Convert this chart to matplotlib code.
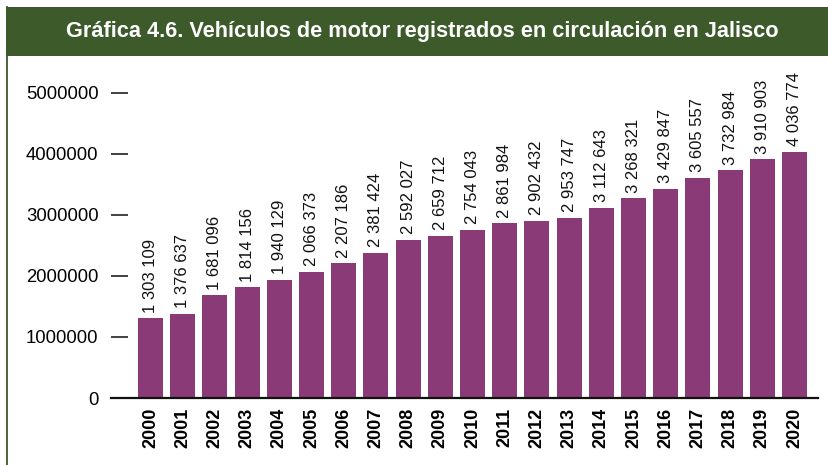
import matplotlib
matplotlib.use("Agg")
import matplotlib.pyplot as plt
from matplotlib.patches import Rectangle
from matplotlib.lines import Line2D

years = ["2000", "2001", "2002", "2003", "2004", "2005", "2006", "2007", "2008", "2009",
         "2010", "2011", "2012", "2013", "2014", "2015", "2016", "2017", "2018", "2019", "2020"]
vehicles = [1303109, 1376637, 1681096, 1814156, 1940129, 2066373, 2207186, 2381424,
            2592027, 2659712, 2754043, 2861984, 2902432, 2953747, 3112643, 3268321,
            3429847, 3605557, 3732984, 3910903, 4036774]
y_ticks = [0, 1000000, 2000000, 3000000, 4000000, 5000000]
title = "Gráfica 4.6. Vehículos de motor registrados en circulación en Jalisco"

FONT = ["Liberation Sans", "DejaVu Sans"]
GREEN = "#3d5a2b"
BAR = "#8b3a78"

W, H = 829, 465
fig = plt.figure(figsize=(W / 100, H / 100), dpi=100)

# title band and frame line
fig.patches.append(Rectangle((6 / W, 1 - 56 / H), 1 - 6 / W, 49 / H,
                             transform=fig.transFigure, facecolor=GREEN,
                             edgecolor="none", zorder=0))
fig.lines.append(Line2D([6.7 / W, 6.7 / W], [0, 1 - 7 / H], transform=fig.transFigure,
                        color=GREEN, linewidth=1.3))
fig.text(422 / W, 1 - 31 / H, title, color="white", fontsize=15.7, fontweight="bold",
         family=FONT, ha="center", va="center")

ppm = 61.06  # pixels per million
ytop = 5.3e6
left, right, bottom = 111, 818, 398
top = bottom - ytop / 1e6 * ppm
ax = fig.add_axes([left / W, 1 - bottom / H, (right - left) / W, (bottom - top) / H])

x = list(range(len(years)))
ax.bar(x, vehicles, width=0.776, color=BAR, zorder=2)
for xi, v in zip(x, vehicles):
    s = f"{v:,}".replace(",", " ")
    ax.annotate(s, (xi, v), xytext=(0, 4), textcoords="offset points", rotation=90,
                ha="center", va="bottom", fontsize=12, family=FONT, color="#111111",
                annotation_clip=False)

ax.set_xlim(-1.227, 20.73)
ax.set_ylim(0, ytop)
ax.set_yticks(y_ticks)
ax.set_yticklabels([str(t) for t in y_ticks], family=FONT, fontsize=13.3)
ax.set_xticks(x)
ax.set_xticklabels(years, rotation=90, family=FONT, fontsize=13, fontweight="bold")
ax.tick_params(axis="y", direction="in", length=12, width=1.3, color="#333333", pad=9)
ax.tick_params(axis="x", length=0, pad=7)
for sp in ["top", "right", "left"]:
    ax.spines[sp].set_visible(False)
ax.spines["bottom"].set_linewidth(1.6)
ax.spines["bottom"].set_color("#111111")
ax.set_facecolor("none")

fig.savefig("out.png", dpi=100)
